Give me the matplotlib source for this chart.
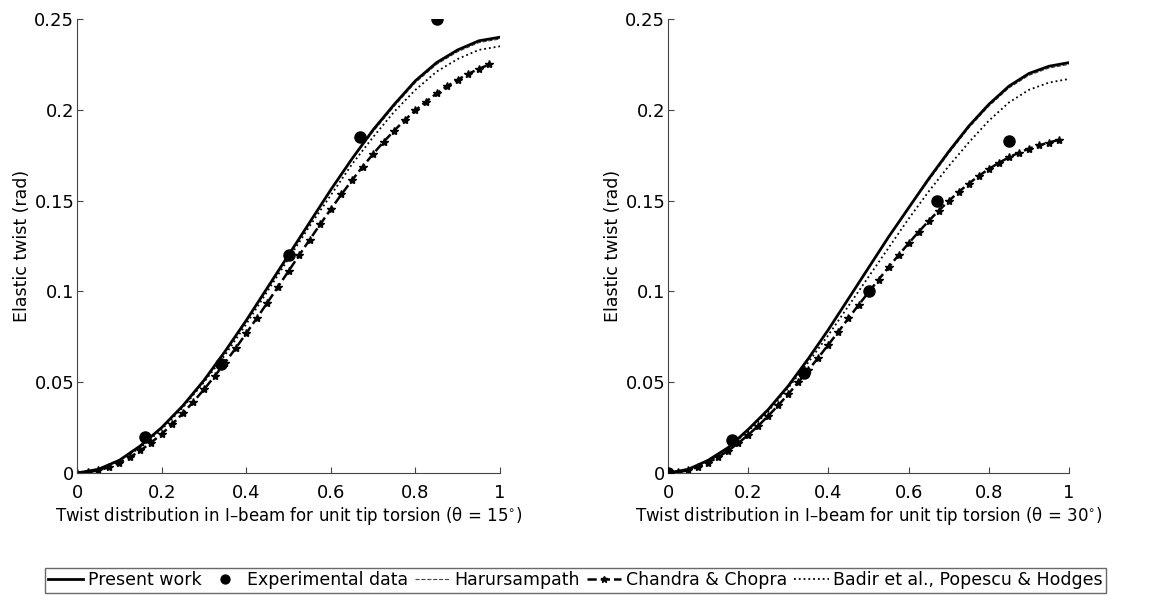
import matplotlib
matplotlib.use("Agg")
import matplotlib.pyplot as plt
import numpy as np

plt.rcParams['font.family'] = ['DejaVu Sans']
plt.rcParams['mathtext.fontset'] = 'dejavusans'

# span position along the beam (grids for the curves)
x_fine = np.linspace(0, 1, 21)
x_dense = np.linspace(0, 1, 41)

# ---- theta = 15 deg ----
present_15 = [0, 0.002, 0.007, 0.015, 0.025, 0.037, 0.051, 0.067, 0.084, 0.102, 0.120,
              0.138, 0.156, 0.173, 0.189, 0.203, 0.216, 0.226, 0.233, 0.238, 0.240]
harur_15 = [0, 0.002, 0.007, 0.015, 0.025, 0.037, 0.051, 0.067, 0.084, 0.102, 0.120,
            0.138, 0.156, 0.173, 0.188, 0.202, 0.215, 0.225, 0.232, 0.237, 0.239]
badir_15 = [0, 0.002, 0.007, 0.014, 0.024, 0.036, 0.050, 0.065, 0.082, 0.100, 0.118,
            0.136, 0.153, 0.170, 0.185, 0.199, 0.211, 0.221, 0.228, 0.233, 0.235]
chandra_15 = [0, 0.0004, 0.0014, 0.0031, 0.0056, 0.0086, 0.0124, 0.0167, 0.0215, 0.0269,
              0.0328, 0.0392, 0.0460, 0.0532, 0.0608, 0.0687, 0.0769, 0.0853, 0.0938, 0.1025,
              0.1112, 0.1199, 0.1285, 0.1370, 0.1453, 0.1534, 0.1612, 0.1686, 0.1757, 0.1824,
              0.1886, 0.1944, 0.1997, 0.2045, 0.2090, 0.2130, 0.2166, 0.2198, 0.2226, 0.2250, 0.2265]
exp_x_15 = [0.16, 0.34, 0.50, 0.67, 0.85]
exp_y_15 = [0.020, 0.060, 0.120, 0.185, 0.250]

# ---- theta = 30 deg ----
present_30 = [0, 0.002, 0.007, 0.014, 0.024, 0.035, 0.048, 0.063, 0.079, 0.096, 0.113,
              0.130, 0.146, 0.162, 0.177, 0.191, 0.203, 0.213, 0.220, 0.224, 0.226]
harur_30 = [0, 0.002, 0.007, 0.014, 0.024, 0.035, 0.048, 0.063, 0.079, 0.096, 0.113,
            0.130, 0.146, 0.161, 0.176, 0.190, 0.202, 0.212, 0.219, 0.223, 0.225]
badir_30 = [0, 0.002, 0.006, 0.014, 0.023, 0.034, 0.047, 0.061, 0.076, 0.092, 0.108,
            0.124, 0.140, 0.155, 0.169, 0.182, 0.194, 0.204, 0.211, 0.215, 0.217]
chandra_30 = [0, 0.0004, 0.0015, 0.0033, 0.0057, 0.0087, 0.0123, 0.0164, 0.0210, 0.0260,
              0.0315, 0.0373, 0.0435, 0.0500, 0.0567, 0.0636, 0.0707, 0.0779, 0.0852, 0.0925,
              0.0995, 0.1065, 0.1133, 0.1200, 0.1265, 0.1328, 0.1388, 0.1445, 0.1498, 0.1548,
              0.1594, 0.1636, 0.1674, 0.1708, 0.1738, 0.1764, 0.1786, 0.1804, 0.1820, 0.1835, 0.1845]
exp_x_30 = [0.0, 0.16, 0.34, 0.50, 0.67, 0.85]
exp_y_30 = [0.0, 0.018, 0.055, 0.100, 0.150, 0.183]

fig = plt.figure(figsize=(11.71, 6.02), dpi=100)
ax1 = fig.add_axes([0.0658, 0.2143, 0.3612, 0.7541])
ax2 = fig.add_axes([0.5705, 0.2143, 0.3424, 0.7541])

panels = [
    (ax1, present_15, harur_15, chandra_15, badir_15, exp_x_15, exp_y_15, '15'),
    (ax2, present_30, harur_30, chandra_30, badir_30, exp_x_30, exp_y_30, '30'),
]

for ax, pres, har, cha, bad, ex, ey, ang in panels:
    l3, = ax.plot(x_fine, har, '--', color='#444444', lw=0.8, label='Harursampath')
    l1, = ax.plot(x_fine, pres, '-', color='black', lw=2, label='Present work')
    l2, = ax.plot(ex, ey, 'o', color='black', ms=8, label='Experimental data', zorder=5)
    l4, = ax.plot(x_dense[:-1], cha[:-1], '--', color='black', lw=1.8, marker='*', ms=6,
                  label='Chandra & Chopra')
    l5, = ax.plot(x_fine, bad, ':', color='black', lw=1.3,
                  label='Badir et al., Popescu & Hodges')
    ax.set_xlim(0, 1)
    ax.set_ylim(0, 0.25)
    ax.set_xticks([0, 0.2, 0.4, 0.6, 0.8, 1])
    ax.set_xticklabels(['0', '0.2', '0.4', '0.6', '0.8', '1'])
    ax.set_yticks([0, 0.05, 0.1, 0.15, 0.2, 0.25])
    ax.set_yticklabels(['0', '0.05', '0.1', '0.15', '0.2', '0.25'])
    ax.spines['top'].set_visible(False)
    ax.spines['right'].set_visible(False)
    for s in ['left', 'bottom']:
        ax.spines[s].set_color('#444444')
        ax.spines[s].set_linewidth(0.8)
    ax.tick_params(direction='in', length=4, width=0.8, labelsize=13, colors='#444444',
                   labelcolor='black')
    ax.tick_params(axis='y', pad=2)
    ax.tick_params(axis='x', pad=8)
    ax.set_ylabel('Elastic twist (rad)', fontsize=12.5, labelpad=2)
    ax.set_xlabel('Twist distribution in I\u2013beam for unit tip torsion (\u03b8 = ' + ang
                  + r'$^{\circ}$)', fontsize=12, labelpad=2)

fig.legend(handles=[l1, l2, l3, l4, l5], loc='center', bbox_to_anchor=(0.4915, 0.036),
           ncol=5, frameon=True, fancybox=False, edgecolor='#444444', fontsize=12.5,
           handlelength=2.0, handletextpad=0.25, columnspacing=0.4, borderpad=0.2,
           markerscale=0.8)

fig.savefig('out.png', dpi=100)
